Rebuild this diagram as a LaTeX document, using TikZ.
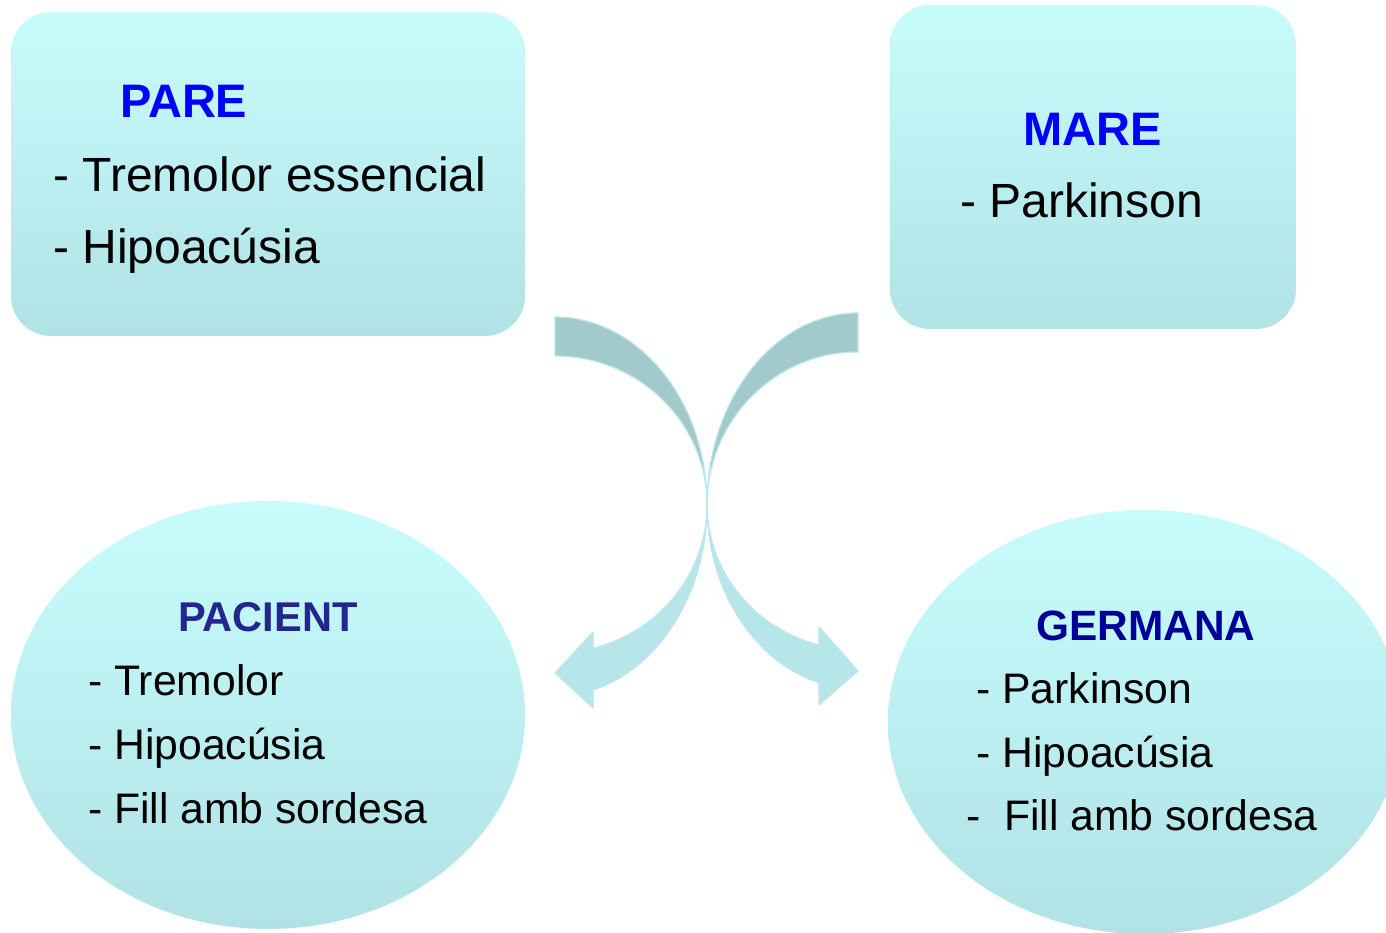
\documentclass[tikz,border=0pt]{standalone}
\usepackage{fontspec}
\setmainfont{Liberation Sans}
\usetikzlibrary{shapes.geometric}

\definecolor{paletop}{HTML}{C8FCFC}
\definecolor{palebot}{HTML}{B0E2E6}
\definecolor{arrowtop}{HTML}{A3CACA}
\definecolor{arrowbot}{HTML}{B6E6EA}
\definecolor{arrowedge}{HTML}{BDE7EA}
\definecolor{headblue}{HTML}{0000FF}
\definecolor{navy}{HTML}{25258F}
\definecolor{deepblue}{HTML}{000099}

% upper half of the crossing arrows is darker than the lower half
\pgfdeclareverticalshading{arrowshade}{100bp}{color(0bp)=(arrowbot); color(48bp)=(arrowbot); color(54bp)=(arrowtop); color(100bp)=(arrowtop)}

\tikzset{
  box/.style={rectangle, rounded corners=40pt, inner sep=0pt, draw=none,
    top color=paletop, bottom color=palebot},
  bubble/.style={ellipse, inner sep=0pt, draw=none,
    top color=paletop, bottom color=palebot},
  bigtitle/.style={anchor=base west, inner sep=0pt, font=\bfseries\fontsize{47}{56}\selectfont},
  bigitem/.style={anchor=base west, inner sep=0pt, font=\fontsize{48}{56}\selectfont},
  smalltitle/.style={anchor=base west, inner sep=0pt, font=\bfseries\fontsize{41.6}{50}\selectfont},
  germtitle/.style={anchor=base west, inner sep=0pt, font=\bfseries\fontsize{42.4}{50}\selectfont},
  smallitem/.style={anchor=base west, inner sep=0pt, font=\fontsize{42.7}{50}\selectfont},
  crossarrow/.style={shading=arrowshade, draw=arrowedge, line width=1.2pt, line join=round},
}

\begin{document}
\begin{tikzpicture}[x=1pt, y=1pt]
\clip (0,0) rectangle (1386,933);

% family boxes
\node[box, minimum width=514pt, minimum height=324pt] (pare) at (268,759) {};
\node[box, minimum width=406pt, minimum height=324pt] (mare) at (1093,766) {};

% children
\node[bubble, minimum width=514pt, minimum height=428pt] (pacient) at (268,218) {};
\node[bubble, minimum width=514pt, minimum height=424pt] (germana) at (1145,211) {};

% left arrow: from the father's side down to the patient
\path[crossarrow] (555,616)
  arc[start angle=90, end angle=0, x radius=152pt, y radius=188pt]
  arc[start angle=0, end angle=-75.52, x radius=152pt, y radius=191pt]
  -- (593,225) -- (555,260) -- (593,301) -- (593,284.7)
  arc[start angle=-75.52, end angle=0, x radius=152pt, y radius=148pt]
  arc[start angle=0, end angle=90, x radius=152pt, y radius=149pt]
  -- cycle;

% right arrow: from the mother's side down to the sister
\path[crossarrow] (858,620)
  arc[start angle=90, end angle=180, x radius=151pt, y radius=192pt]
  arc[start angle=180, end angle=255, x radius=151pt, y radius=184pt]
  -- (819,228) -- (858,262) -- (819,306) -- (819,288)
  arc[start angle=255, end angle=180, x radius=151pt, y radius=145pt]
  arc[start angle=180, end angle=90, x radius=151pt, y radius=153pt]
  -- cycle;

% texts
\node[bigtitle, text=headblue] (pareT) at (120,815) {PARE};
\node[bigitem] (pare1) at (53,741) {- Tremolor essencial};
\node[bigitem] (pare2) at (53,669) {- Hipoacúsia};

\node[bigtitle, text=headblue] (mareT) at (1023,787) {MARE};
\node[bigitem] (mare1) at (960,715) {- Parkinson};

\node[smalltitle, text=navy] (pacT) at (178,301) {PACIENT};
\node[smallitem] (pac1) at (88,237) {- Tremolor};
\node[smallitem] (pac2) at (88,173) {- Hipoacúsia};
\node[smallitem] (pac3) at (88,109) {- Fill amb sordesa};

\node[germtitle, text=deepblue] (gerT) at (1036,292) {GERMANA};
\node[smallitem] (ger1) at (976,229) {- Parkinson};
\node[smallitem] (ger2) at (976,165) {- Hipoacúsia};
\node[smallitem] (ger3) at (966,102) {-~\ Fill amb sordesa};
\end{tikzpicture}
\end{document}
